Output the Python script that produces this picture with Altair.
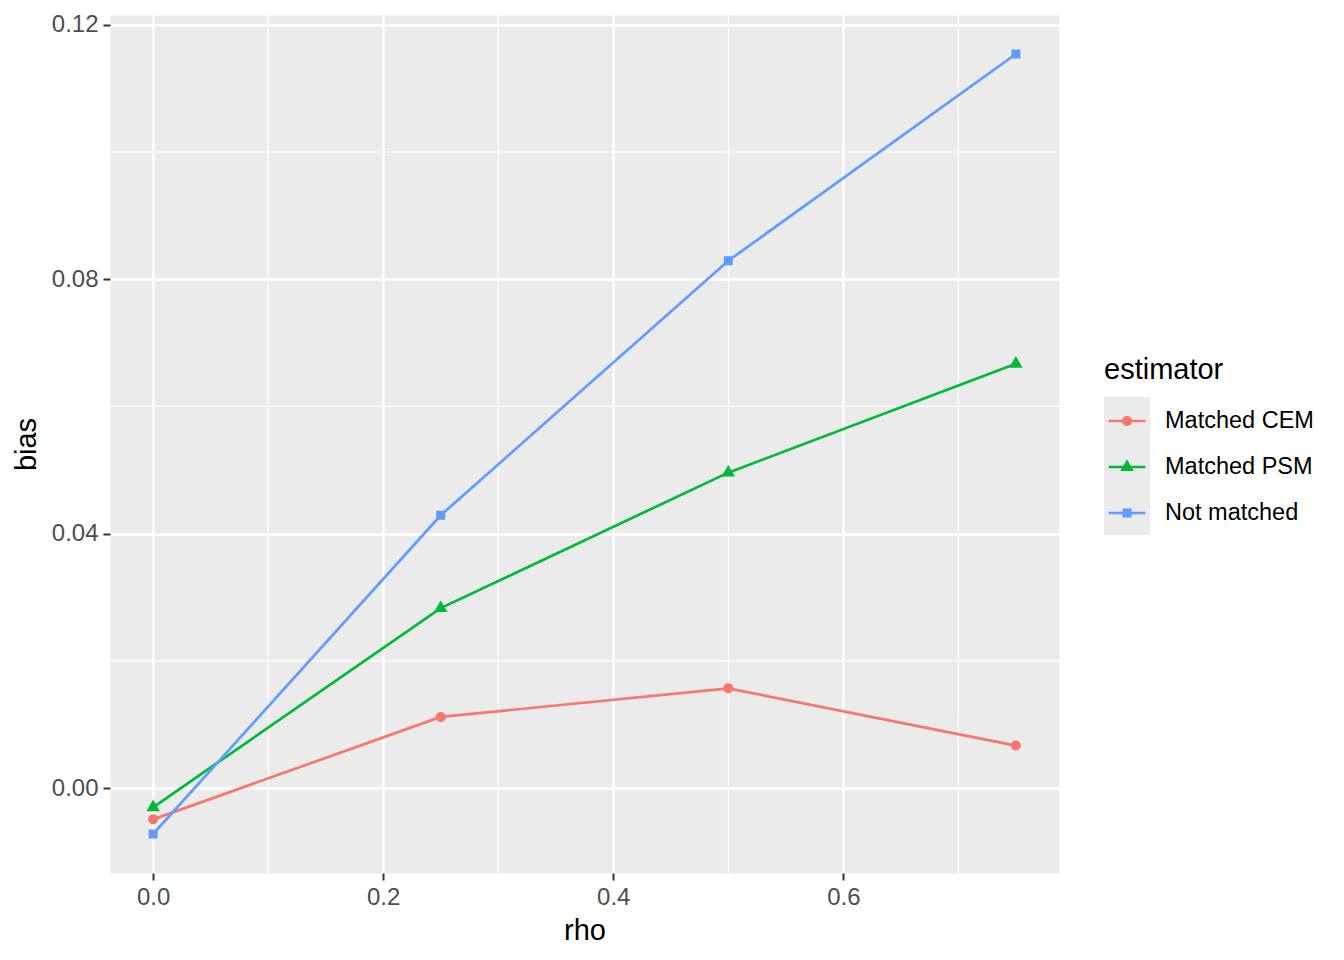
import altair as alt
import pandas as pd

# ---- data ----
estimators = ["Matched CEM", "Matched PSM", "Not matched"]
rho = [0.0, 0.25, 0.5, 0.75]
bias_cem = [-0.0049, 0.0112, 0.0157, 0.0067]
bias_psm = [-0.0030, 0.0283, 0.0496, 0.0667]
bias_nm = [-0.0072, 0.0429, 0.0829, 0.1154]

x_major = [0.0, 0.2, 0.4, 0.6]
x_minor = [0.1, 0.3, 0.5, 0.7]
y_major = [0.0, 0.04, 0.08, 0.12]
y_minor = [0.02, 0.06, 0.10]
key_ids = ["k1", "k2", "k3"]

colors = ["#F8766D", "#00BA38", "#619CFF"]

# ---- tables ----
rows = []
for name, vals in zip(estimators, [bias_cem, bias_psm, bias_nm]):
    for r, b in zip(rho, vals):
        rows.append({"rho": r, "bias": b, "estimator": name})
df = pd.DataFrame(rows)

# ggplot-like 5% expansion
xmin, xmax = min(rho), max(rho)
allb = bias_cem + bias_psm + bias_nm
ymin, ymax = min(allb), max(allb)
xpad = 0.05 * (xmax - xmin)
ypad = 0.05 * (ymax - ymin)
xscale = alt.Scale(domain=[xmin - xpad, xmax + xpad], nice=False, zero=False)
yscale = alt.Scale(domain=[ymin - ypad, ymax + ypad], nice=False, zero=False)

GRID = "#FFFFFF"
TXT = "#4D4D4D"

x_axis = alt.Axis(values=x_major, format=".1f", grid=True, gridColor=GRID, gridWidth=2.4,
                  domain=False, tickColor="#333333", tickSize=7, tickWidth=2,
                  labelFontSize=24, labelColor=TXT, labelPadding=5, labelFlush=False,
                  title="rho", titleFontSize=29, titleFontWeight="normal", titleColor="#000000",
                  titleY=66, titleBaseline="alphabetic")
y_axis = alt.Axis(values=y_major, format=".2f", grid=True, gridColor=GRID, gridWidth=2.4,
                  domain=False, tickColor="#333333", tickSize=7, tickWidth=2,
                  labelFontSize=24, labelColor=TXT, labelPadding=5, labelFlush=False,
                  title="bias", titleFontSize=29, titleFontWeight="normal", titleColor="#000000",
                  titleX=-75, titleY=429, titleAngle=-90, titleBaseline="alphabetic")

X = alt.X("rho:Q", scale=xscale, axis=x_axis)
Y = alt.Y("bias:Q", scale=yscale, axis=y_axis)

color_scale = alt.Scale(domain=estimators, range=colors)

# minor gridlines
minor_x = alt.Chart(pd.DataFrame({"rho": x_minor})).mark_rule(color=GRID, strokeWidth=1.2).encode(x=X)
minor_y = alt.Chart(pd.DataFrame({"bias": y_minor})).mark_rule(color=GRID, strokeWidth=1.2).encode(y=Y)

lines = alt.Chart(df).mark_line(strokeWidth=2.7).encode(
    x=X, y=Y,
    color=alt.Color("estimator:N", scale=color_scale, legend=None),
)

pt_paths = [
    "M1,0 A1,1 0 1,1 -1,0 A1,1 0 1,1 1,0 Z",
    "M0,-1.55 L1.35,0.78 L-1.35,0.78 Z",
    "M-0.9,-0.9 H0.9 V0.9 H-0.9 Z",
]
points = alt.Chart(df).mark_point(filled=True, opacity=1, size=100, strokeWidth=0).encode(
    x=X, y=Y,
    color=alt.Color("estimator:N", scale=color_scale, legend=None),
    shape=alt.Shape("estimator:N", scale=alt.Scale(domain=estimators, range=pt_paths), legend=None),
)

# legend keys: line through marker (unit = 23px for symbolSize 2116)
key_paths = [
    "M-0.8,-0.059 H0.8 V0.059 H-0.8 Z M0.217,0 A0.217,0.217 0 1,1 -0.217,0 A0.217,0.217 0 1,1 0.217,0 Z",
    "M-0.8,-0.059 H0.8 V0.059 H-0.8 Z M0,-0.337 L0.293,0.17 L-0.293,0.17 Z",
    "M-0.8,-0.059 H0.8 V0.059 H-0.8 Z M-0.2,-0.2 H0.2 V0.2 H-0.2 Z",
]
LX, LY = 994, 340
leg_common = dict(orient="none", legendX=LX, legendY=LY + 1, direction="vertical",
                  title="estimator", titleFontSize=29, titleFontWeight="normal",
                  titleColor="#000000", titlePadding=13, titleBaseline="top",
                  labelFontSize=23.5, labelColor="#000000", labelOffset=15,
                  symbolSize=2116, symbolStrokeWidth=0, symbolOpacity=1,
                  rowPadding=11, padding=0)

legend_layer = alt.Chart(df).transform_filter("false").mark_point(filled=True, opacity=1).encode(
    x=X, y=Y,
    color=alt.Color("estimator:N", scale=color_scale, legend=alt.Legend(**leg_common)),
    shape=alt.Shape("estimator:N", scale=alt.Scale(domain=estimators, range=key_paths),
                    legend=alt.Legend(**leg_common)),
)

bg_common = dict(leg_common)
bg_common.update(legendY=LY, rowPadding=0, titleOpacity=0, labelOpacity=0, labelExpr="''",
                 symbolType="square")
key_bg = alt.Chart(pd.DataFrame({"key": key_ids, "rho": [0.0] * 3, "bias": [0.0] * 3})).transform_filter(
    "false").mark_point(filled=True, opacity=1).encode(
    x=X, y=Y,
    fill=alt.Fill("key:N", scale=alt.Scale(domain=key_ids, range=["#EBEBEB"] * 3),
                  legend=alt.Legend(**bg_common)),
)

chart = alt.layer(key_bg, minor_x, minor_y, lines, points, legend_layer).resolve_scale(
    color="independent", shape="independent"
).properties(
    width=949, height=858,
    autosize=alt.AutoSizeParams(type="none"),
    padding={"left": 102, "top": 7, "right": 277, "bottom": 79},
).configure(font="Liberation Sans").configure_view(fill="#EBEBEB", stroke="transparent")

chart.save("out.html", embed_options={"renderer": "svg", "actions": False})
